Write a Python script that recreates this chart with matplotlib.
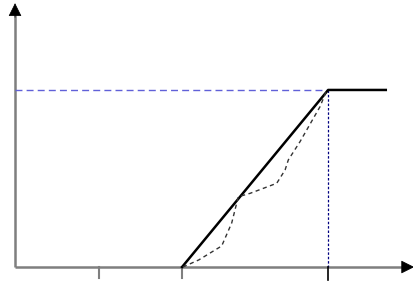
import matplotlib
matplotlib.use("Agg")
import matplotlib.pyplot as plt

# chart values (arbitrary units: x tick spacing = 1, plateau level = 1)
tick_x = [1, 2]
ramp_x = [2.0, 3.75, 4.44]
ramp_y = [0.0, 1.0, 1.0]
level = 1.0
curve_x = [2.01, 2.2, 2.475, 2.595, 2.674, 2.814, 3.134, 3.234, 3.273, 3.413, 3.653, 3.733]
curve_y = [0.0, 0.04, 0.119, 0.249, 0.397, 0.416, 0.473, 0.548, 0.605, 0.708, 0.906, 1.0]

fig = plt.figure(figsize=(4.14, 2.92), dpi=100)
ax = fig.add_axes([0, 0, 1, 1])
ax.set_xlim(-0.18, 4.778)
ax.set_ylim(-0.141, 1.508)
ax.axis("off")

axis_col = "#7f7f7f"
# axis shafts in grey, arrow heads in black
ax.plot([0, 4.68], [0, 0], color=axis_col, lw=1.8, solid_capstyle="butt")
ax.plot([0, 0], [0, 1.44], color=axis_col, lw=1.8, solid_capstyle="butt")
ax.annotate("", xy=(4.78, 0), xytext=(4.64, 0),
            arrowprops=dict(arrowstyle="-|>,head_length=0.6,head_width=0.3",
                            color="black", lw=0.5,
                            mutation_scale=14, shrinkA=0, shrinkB=0))
ax.annotate("", xy=(0, 1.49), xytext=(0, 1.41),
            arrowprops=dict(arrowstyle="-|>,head_length=0.6,head_width=0.3",
                            color="black", lw=0.5,
                            mutation_scale=14, shrinkA=0, shrinkB=0))

# tick marks below the x axis
for tx in tick_x:
    ax.plot([tx, tx], [0, -0.062], color=axis_col, lw=1.5)

# reference lines
ax.plot([0, ramp_x[1]], [level, level], color="#6060d8", lw=1.0, ls=(0, (5, 3)))
ax.plot([ramp_x[1], ramp_x[1]], [level, 0], color="#000080", lw=0.9, ls=(0, (2, 1.5)))
ax.plot([ramp_x[1], ramp_x[1]], [0, -0.073], color="black", lw=1.2)

# curves
ax.plot(ramp_x, ramp_y, color="black", lw=1.8)
ax.plot(curve_x, curve_y, color="#333333", lw=1.0, ls=(0, (3, 2.5)))

fig.savefig("out.png", dpi=100)
